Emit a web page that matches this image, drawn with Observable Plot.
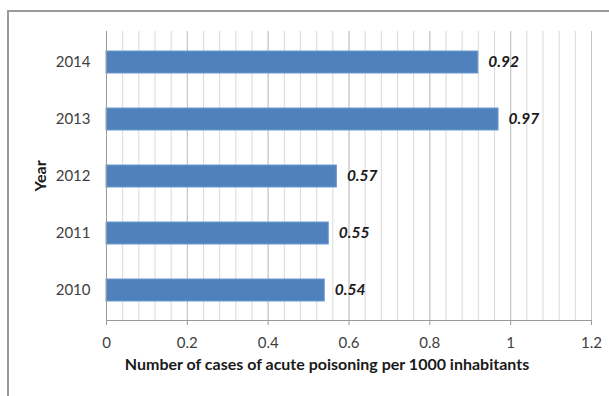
<!DOCTYPE html>
<html>
<head>
<meta charset="utf-8">
<script src="https://cdn.jsdelivr.net/npm/d3@7"></script>
<script src="https://cdn.jsdelivr.net/npm/@observablehq/plot@0.6"></script>
<style>
  html, body { margin: 0; padding: 0; background: #fff; }
  #wrap { position: relative; width: 609px; height: 396px; overflow: hidden; }
  #frame { position: absolute; left: 7px; top: 10px; width: 700px; height: 500px;
           border-top: 2px solid #9a9a9a; border-left: 2px solid #9a9a9a; box-sizing: border-box; }
  #chart { position: absolute; left: 0; top: 0; }
</style>
</head>
<body>
<div id="wrap"><div id="frame"></div><div id="chart"></div></div>
<script>
const years = ["2010", "2011", "2012", "2013", "2014"];
const rates = [0.54, 0.55, 0.57, 0.97, 0.92];
const xTicks = [0, 0.2, 0.4, 0.6, 0.8, 1, 1.2];
const minorTicks = d3.range(0, 1.2001, 0.04).map(v => +v.toFixed(2));
const xTitle = "Number of cases of acute poisoning per 1000 inhabitants";
const yTitle = "Year";

const data = years.map((y, i) => ({year: y, rate: rates[i]}));

const chart = Plot.plot({
  width: 609,
  height: 396,
  marginLeft: 106,
  marginRight: 18,
  marginTop: 31,
  marginBottom: 76,
  style: {fontFamily: "Lato, sans-serif", fontSize: "15px", color: "#404040", background: "transparent"},
  x: {domain: [0, 1.2]},
  y: {domain: years.slice().reverse(), paddingInner: 0.62, paddingOuter: 0.31},
  marks: [
    Plot.ruleX(minorTicks, {stroke: "#d9d9d9", strokeWidth: 1, strokeOpacity: 1}),
    Plot.ruleX(xTicks, {stroke: "#c4c4c4", strokeWidth: 1, strokeOpacity: 1}),
    Plot.barX(data, {x: "rate", y: "year", fill: "#4f81bd", stroke: "#6d9bd3", strokeWidth: 1}),
    Plot.text(data, {x: "rate", y: "year", text: d => d.rate.toFixed(2), textAnchor: "start", dx: 10,
      fontWeight: "bold", fontStyle: "italic", fill: "#1a1a1a", fontSize: 15.5}),
    Plot.ruleX([0], {stroke: "#9a9a9a", strokeWidth: 1}),
    Plot.frame({anchor: "bottom", stroke: "#9a9a9a", strokeOpacity: 1}),
    Plot.axisX({ticks: xTicks, tickSize: 5, tickPadding: 12, stroke: "#9a9a9a",
      tickFormat: d => String(d), label: xTitle, labelArrow: "none",
      labelAnchor: "center", labelOffset: 49}),
    Plot.axisY({tickSize: 0, tickPadding: 16, label: yTitle, labelArrow: "none", labelAnchor: "center", labelOffset: 72})
  ]
});

d3.select(chart).selectAll("[aria-label='x-axis label'] text, [aria-label='y-axis label'] text")
  .style("font-weight", "bold").style("font-size", "16px").style("fill", "#1a1a1a")
  .text(function() { return this.textContent.replace(/\s*[→↑←↓]\s*/g, ""); });
d3.select(chart).selectAll("[aria-label='x-axis label'] text").attr("dx", -22);

document.getElementById("chart").appendChild(chart);
</script>
</body>
</html>
